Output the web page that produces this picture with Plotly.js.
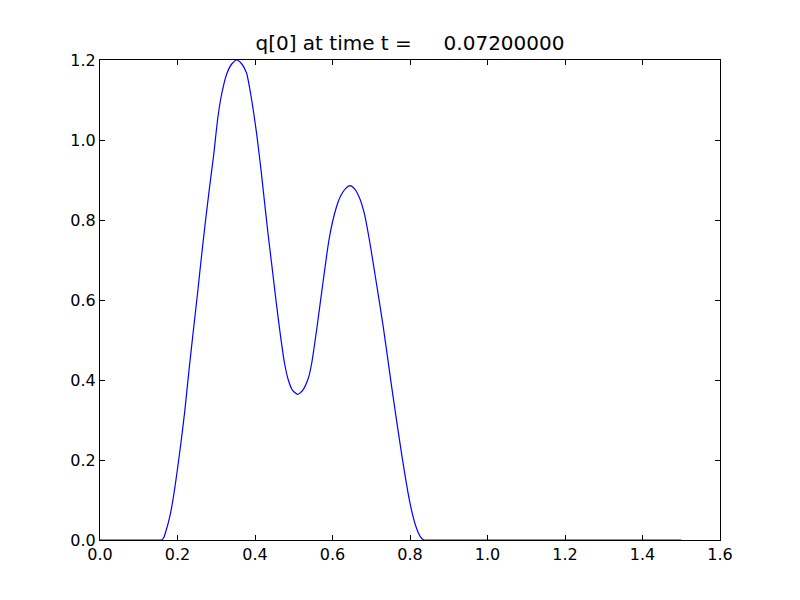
<!DOCTYPE html>
<html>
<head>
<meta charset="utf-8">
<script src="https://cdn.plot.ly/plotly-3.0.1.min.js"></script>
<style>html,body{margin:0;padding:0;background:#fff;}#chart{width:800px;height:600px;}</style>
</head>
<body>
<div id="chart"></div>
<script>
const xValues = [0, 0.05, 0.1, 0.14, 0.152, 0.159, 0.165, 0.170, 0.176, 0.182, 0.189, 0.196, 0.2085, 0.2185, 0.2297, 0.2405, 0.2515, 0.262, 0.2725, 0.2825, 0.293, 0.304, 0.314, 0.327, 0.34, 0.353, 0.366, 0.378, 0.3914, 0.404, 0.4146, 0.424, 0.4335, 0.4439, 0.454, 0.4645, 0.4756, 0.486, 0.497, 0.51, 0.523, 0.5377, 0.546, 0.559, 0.5763, 0.59, 0.60, 0.61, 0.62, 0.633, 0.645, 0.657, 0.669, 0.682, 0.697, 0.712, 0.731, 0.7527, 0.778, 0.80, 0.8155, 0.827, 0.836, 0.845, 0.86, 0.9, 1.0, 1.1, 1.2, 1.3, 1.4, 1.5];
const qValues = [0, 0, 0, 0, 0, 0, 0.007, 0.022, 0.042, 0.067, 0.105, 0.15, 0.24, 0.32, 0.425, 0.52, 0.615, 0.71, 0.80, 0.88, 0.96, 1.055, 1.115, 1.165, 1.19, 1.2, 1.19, 1.168, 1.1, 1.017, 0.933, 0.85, 0.767, 0.683, 0.6, 0.52, 0.445, 0.40, 0.374, 0.364, 0.374, 0.405, 0.44, 0.525, 0.65, 0.745, 0.795, 0.832, 0.858, 0.878, 0.886, 0.878, 0.857, 0.817, 0.74, 0.65, 0.533, 0.383, 0.217, 0.092, 0.033, 0.008, 0, 0, 0, 0, 0, 0, 0, 0, 0, 0];
const tickVals = [0, 0.2, 0.4, 0.6, 0.8, 1.0, 1.2, 1.4, 1.6];
const yTickVals = [0, 0.2, 0.4, 0.6, 0.8, 1.0, 1.2];
const titleText = "q[0] at time t =\u00a0\u00a0\u00a0\u00a0\u00a00.07200000";

const axisCommon = {
  showline: true, linecolor: '#000', linewidth: 1, mirror: 'ticks',
  ticks: 'inside', ticklen: 5, tickwidth: 1, tickcolor: '#000',
  showgrid: false, zeroline: false, tickformat: '.1f',
  tickfont: {family: 'DejaVu Sans', size: 16, color: '#000'}
};

Plotly.newPlot('chart', [{
  x: xValues, y: qValues, type: 'scatter', mode: 'lines',
  line: {color: '#0000ff', width: 1.2, shape: 'spline', smoothing: 0.6}
}], {
  width: 800, height: 600,
  margin: {l: 100, r: 80, t: 60, b: 60},
  paper_bgcolor: '#fff', plot_bgcolor: '#fff',
  showlegend: false,
  title: {text: titleText, font: {family: 'DejaVu Sans', size: 20, color: '#000'},
          x: 0.5125, xanchor: 'center', y: 0.929, yanchor: 'middle'},
  xaxis: Object.assign({}, axisCommon, {range: [0, 1.6], tickvals: tickVals}),
  yaxis: Object.assign({}, axisCommon, {range: [0, 1.2], tickvals: yTickVals})
}, {displayModeBar: false, staticPlot: true});
</script>
</body>
</html>
